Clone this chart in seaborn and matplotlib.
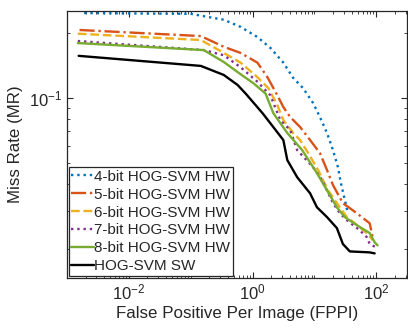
import numpy as np
import pandas as pd
import matplotlib
matplotlib.use("Agg")
import matplotlib.pyplot as plt
import matplotlib.ticker as mticker
import seaborn as sns

# FPPI / miss-rate points
fppi_4bit = [0.0019, 0.101, 0.19, 0.343, 0.641, 1.20, 1.94, 3.15, 4.55, 6.59, 9.53, 12.3, 16.0, 20.0, 24.0, 26.8, 31.1, 34.7]
mr_4bit = [0.248, 0.246, 0.238, 0.231, 0.214, 0.192, 0.171, 0.146, 0.124, 0.111, 0.0948, 0.0816, 0.0688, 0.0573, 0.0478, 0.0403, 0.0336, 0.0292]

fppi_5bit = [0.0016, 0.146, 0.343, 0.641, 1.20, 1.74, 2.52, 3.15, 4.07, 5.89, 8.53, 12.3, 16.0, 20.0, 28.9, 48.4, 78.4, 87.5]
mr_5bit = [0.207, 0.194, 0.173, 0.162, 0.146, 0.125, 0.103, 0.0908, 0.0816, 0.0733, 0.0638, 0.0555, 0.0463, 0.0394, 0.0325, 0.0292, 0.0262, 0.0226]

fppi_6bit = [0.0015, 0.146, 0.343, 0.641, 1.20, 1.81, 2.52, 3.15, 4.55, 5.89, 7.93, 11.5, 16.6, 23.1, 33.5, 54.2, 70.2, 87.5]
mr_6bit = [0.199, 0.186, 0.162, 0.146, 0.125, 0.111, 0.0927, 0.0790, 0.0688, 0.0638, 0.0555, 0.0463, 0.0373, 0.0325, 0.0280, 0.0251, 0.0236, 0.0219]

fppi_7bit = [0.0015, 0.163, 0.343, 0.641, 1.20, 1.94, 2.81, 4.07, 5.27, 9.53, 13.3, 20.0, 25.8, 33.5, 54.2, 70.2, 78.4, 97.8]
mr_7bit = [0.184, 0.167, 0.158, 0.139, 0.119, 0.103, 0.0790, 0.0710, 0.0573, 0.0478, 0.0416, 0.0325, 0.0292, 0.0271, 0.0243, 0.0226, 0.0210, 0.0203]

fppi_8bit = [0.0015, 0.163, 0.343, 0.574, 1.04, 1.62, 2.17, 3.65, 6.35, 11.0, 16.0, 23.1, 31.1, 48.4, 78.4, 94.2, 105.0]
mr_8bit = [0.180, 0.167, 0.147, 0.132, 0.117, 0.105, 0.0851, 0.0688, 0.0573, 0.0448, 0.0373, 0.0311, 0.0280, 0.0257, 0.0236, 0.0214, 0.0207]

fppi_sw = [0.00155, 0.146, 0.343, 0.574, 0.772, 1.45, 2.17, 3.15, 3.65, 5.27, 8.53, 11.0, 16.0, 23.1, 28.9, 37.4, 78.4, 94.2]
mr_sw = [0.157, 0.141, 0.128, 0.115, 0.105, 0.0851, 0.0733, 0.0638, 0.0515, 0.0429, 0.0361, 0.0311, 0.0280, 0.0249, 0.0210, 0.0194, 0.0192, 0.0190]

labels = ["4-bit HOG-SVM HW", "5-bit HOG-SVM HW", "6-bit HOG-SVM HW",
          "7-bit HOG-SVM HW", "8-bit HOG-SVM HW", "HOG-SVM SW"]
colors = ["#0072BD", "#D95319", "#EDB120", "#7E2F8E", "#77AC30", "#000000"]
styles = [":", "-.", "--", ":", "-", "-"]
series = [(fppi_4bit, mr_4bit), (fppi_5bit, mr_5bit), (fppi_6bit, mr_6bit),
          (fppi_7bit, mr_7bit), (fppi_8bit, mr_8bit), (fppi_sw, mr_sw)]

sns.set_style("ticks")
plt.rcParams["font.family"] = ["Liberation Sans", "DejaVu Sans"]
plt.rcParams["xtick.direction"] = "in"
plt.rcParams["ytick.direction"] = "in"

fig = plt.figure(figsize=(4.08, 3.29), dpi=100)
ax = fig.add_axes([0.164, 0.155, 0.834, 0.812])

for (fx, my), lab, col, ls in zip(series, labels, colors, styles):
    df = pd.DataFrame({"FPPI": fx, "MR": my})
    sns.lineplot(data=df, x="FPPI", y="MR", ax=ax, color=col, linestyle=ls,
                 linewidth=1.7, label=lab, sort=False, estimator=None)

ax.set_xscale("log")
ax.set_yscale("log")
ax.set_xlim(1e-3, 10 ** 2.5)
ax.set_ylim(0.0146, 0.254)

ax.xaxis.set_major_locator(mticker.FixedLocator([1e-2, 1e0, 1e2]))
ax.xaxis.set_minor_locator(mticker.LogLocator(base=10, subs=np.arange(1, 10), numticks=20))
ax.xaxis.set_minor_formatter(mticker.NullFormatter())
ax.yaxis.set_major_locator(mticker.FixedLocator([1e-1]))
ax.yaxis.set_minor_locator(mticker.LogLocator(base=10, subs=np.arange(2, 10), numticks=20))
ax.yaxis.set_minor_formatter(mticker.NullFormatter())

ax.tick_params(which="both", top=True, right=True, direction="in", labelsize=12, colors="#262626")
ax.tick_params(which="major", length=4)
ax.tick_params(which="minor", length=2)
for sp in ax.spines.values():
    sp.set_visible(True)
    sp.set_color("#262626")
    sp.set_linewidth(0.9)

ax.set_xlabel("False Positive Per Image (FPPI)", fontsize=12.2, color="#262626", labelpad=2)
ax.set_ylabel("Miss Rate (MR)", fontsize=12.2, color="#262626", labelpad=4)

leg = ax.legend(loc="lower left", fontsize=11, frameon=True, fancybox=False,
                handlelength=1.45, handletextpad=0.05, borderpad=0.15,
                labelspacing=0.26, borderaxespad=0.15)
leg.get_frame().set_edgecolor("#262626")
leg.get_frame().set_linewidth(0.9)
leg.get_frame().set_alpha(1)

plt.savefig("out.png", dpi=100)
